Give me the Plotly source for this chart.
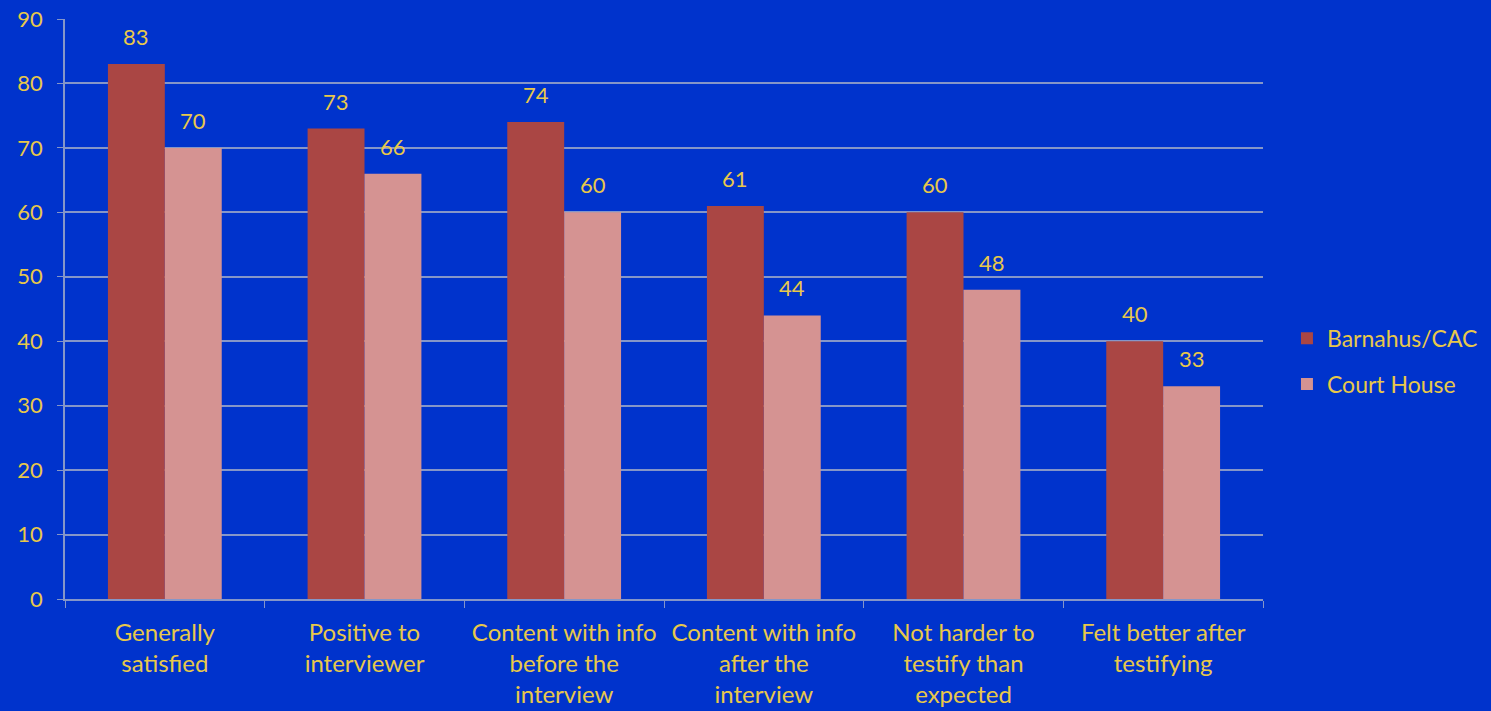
import plotly.graph_objects as go

categories = [
    "Generally<br>satisfied",
    "Positive to<br>interviewer",
    "Content with info<br>before the<br>interview",
    "Content with info<br>after the<br>interview",
    "Not harder to<br>testify than<br>expected",
    "Felt better after<br>testifying",
]
barnahus = [83, 73, 74, 61, 60, 40]
court_house = [70, 66, 60, 44, 48, 33]
y_ticks = [0, 10, 20, 30, 40, 50, 60, 70, 80, 90]

BG = "#0033CC"
TEXT = "#E8C84A"
GRID = "#8596C8"
FONT = "Lato, Open Sans, sans-serif"
BARGAP = 0.43
BAR_W = (1 - BARGAP) / 2

fig = go.Figure()
fig.add_trace(go.Bar(
    name="Barnahus/CAC", x=categories, y=barnahus, legendgroup="a",
    marker=dict(color="#AA4644", line=dict(width=0)),
))
fig.add_trace(go.Bar(
    name="Court House", x=categories, y=court_house, legendgroup="b",
    marker=dict(color="#D59392", line=dict(width=0)),
))

# value labels above each bar
annotations = []
for i, (a, b) in enumerate(zip(barnahus, court_house)):
    for off, v in ((-BAR_W / 2, a), (BAR_W / 2, b)):
        annotations.append(dict(
            x=i + off, y=v, xref="x", yref="y", text=str(v),
            showarrow=False, yanchor="bottom", yshift=12,
            font=dict(size=22, color=TEXT, family=FONT),
        ))

fig.update_layout(
    width=1491, height=711,
    paper_bgcolor=BG, plot_bgcolor=BG,
    margin=dict(l=65, r=228, t=19, b=112, autoexpand=False),
    barmode="group", bargap=BARGAP, bargroupgap=0,
    font=dict(family=FONT, color=TEXT, size=22),
    showlegend=True,
    legend=dict(
        x=1.02, y=0.41, xanchor="left", yanchor="middle",
        font=dict(size=23, color=TEXT, family=FONT),
        bgcolor="rgba(0,0,0,0)", itemsizing="constant",
        traceorder="grouped", tracegroupgap=13,
    ),
    annotations=annotations,
)
fig.update_xaxes(
    type="category", tickson="boundaries", ticks="outside", ticklen=7,
    tickcolor=GRID, showline=True, linecolor=GRID, linewidth=1.5,
    showgrid=False, automargin=False, ticklabelstandoff=11,
    tickfont=dict(size=24, color=TEXT, family=FONT),
)
fig.update_yaxes(
    range=[0, 90], tickvals=y_ticks, ticks="outside", ticklen=6,
    tickcolor=GRID, showline=True, linecolor=GRID, linewidth=1.5,
    showgrid=True, gridcolor=GRID, gridwidth=1.5, zeroline=False,
    automargin=False, ticklabelstandoff=10,
    tickfont=dict(size=22, color=TEXT, family=FONT),
)

fig.write_html("out.html")
